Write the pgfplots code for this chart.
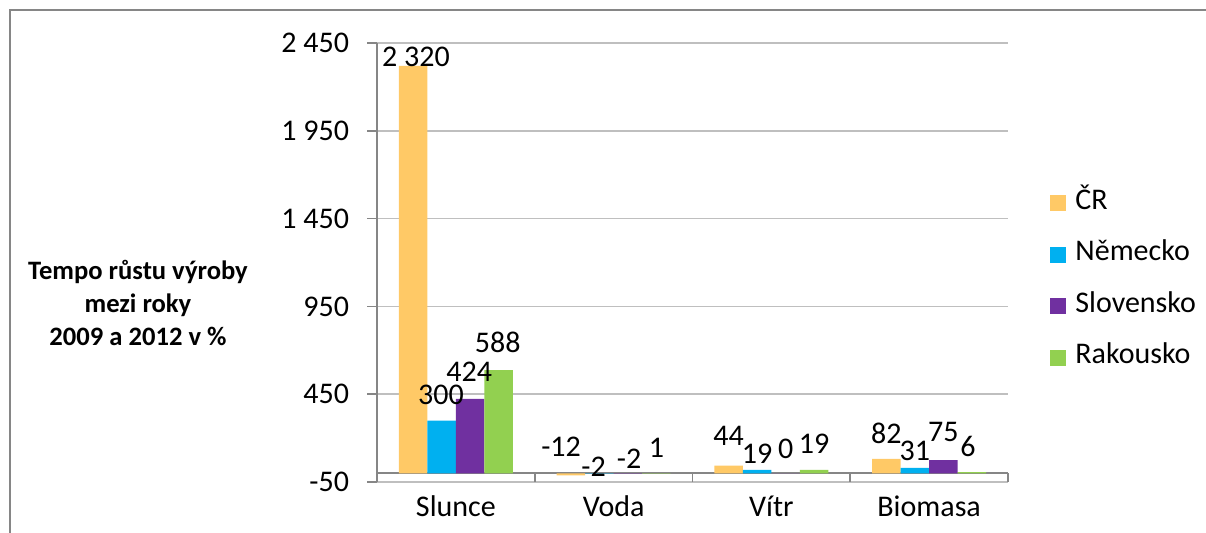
\documentclass[border=0pt]{standalone}
\usepackage{pgfplots}
\usepackage{pgfplotstable}
\pgfplotsset{compat=1.18}
\usepackage{fontspec}
\setmainfont{Carlito}
\definecolor{cCR}{HTML}{FFC966}
\definecolor{cDE}{HTML}{00B0F0}
\definecolor{cSK}{HTML}{7030A0}
\definecolor{cAT}{HTML}{92D050}
\definecolor{gridc}{HTML}{BFBFBF}
\definecolor{axc}{HTML}{868686}
% x = category (0 Slunce, 1 Voda, 2 Vitr, 3 Biomasa); dx, dy = label offsets (pt)
\pgfplotstableread{
x y dx dy
0 2320 1.4 -3.9
1 -12 -4.9 5.9
2 44 0 6.5
3 82 0 4.1
}\tCR
\pgfplotstableread{
x y dx dy
0 300 -0.3 4.5
1 -2 -2.9 -5.0
2 19 0 -0.3
3 31 0 0.1
}\tDE
\pgfplotstableread{
x y dx dy
0 424 -0.5 5.1
1 -2 0.6 -1.2
2 0 0 3.9
3 75 0 5.7
}\tSK
\pgfplotstableread{
x y dx dy
0 588 -0.5 5.2
1 1 0.1 4.2
2 19 0 4.7
3 6 -1.9 4.3
}\tAT
\begin{document}
\begin{tikzpicture}[x=1pt,y=1pt]
\useasboundingbox (0,0) rectangle (603,266.5);
\draw[axc, line width=1pt] (5,0) -- (5,261.5) -- (603,261.5);
\node[font=\fontsize{13.3}{16.5}\selectfont\bfseries, align=center] at (69,115) {Tempo růstu výroby\\mezi roky\\2009 a 2012 v \%};
\begin{axis}[
  at={(239,29)}, anchor=south west,
  scale only axis, width=315.5pt, height=219.5pt,
  ymin=-50, ymax=2450, ytick={-50,450,950,1450,1950,2450},
  xmin=-0.5, xmax=3.5, xtick={0,1,2,3}, xticklabels={Slunce,Voda,Vítr,Biomasa},
  axis x line*=bottom, axis y line*=left,
  axis line style={axc, line width=0.8pt},
  x axis line style={gridc},
  ymajorgrids, grid style={gridc, line width=0.8pt},
  x tick style={draw=none},
  y tick style={axc, line width=0.8pt},
  tick align=outside, major tick length=5pt,
  tick label style={font=\fontsize{15}{17}\selectfont},
  yticklabel style={xshift=-5.5pt},
  xticklabel style={yshift=1.5pt},
  /pgf/number format/1000 sep={\ },
  /pgf/number format/assume math mode=true,
  ybar=0pt, bar width=14.25pt,
  legend image code/.code={\fill[#1] (0pt,-4pt) rectangle (8pt,4pt);},
  legend cell align=left,
  legend style={at={(axis description cs:1.0666,0.666)}, anchor=north west,
    draw=none, fill=none, inner sep=0pt, row sep=12.8pt,
    font=\fontsize{15}{17}\selectfont,
    nodes={inner ysep=0pt, text height=9.5pt, text depth=3.5pt},
    /tikz/every odd column/.append style={column sep=2.5pt}},
  nodes near coords,
  visualization depends on={\thisrow{dx} \as \dx},
  visualization depends on={\thisrow{dy} \as \dy},
  every node near coord/.append style={font=\fontsize{15}{17}\selectfont, anchor=south, xshift=\dx pt, yshift=\dy pt, text=black},
  clip=false,
]
\draw[axc, line width=0.8pt] (axis cs:-0.5,0) -- (axis cs:3.5,0);
\draw[axc, line width=0.8pt] (axis cs:-0.5,0) -- (axis cs:-0.5,-50);
\draw[axc, line width=0.8pt] (axis cs:0.5,0) -- (axis cs:0.5,-50);
\draw[axc, line width=0.8pt] (axis cs:1.5,0) -- (axis cs:1.5,-50);
\draw[axc, line width=0.8pt] (axis cs:2.5,0) -- (axis cs:2.5,-50);
\draw[axc, line width=0.8pt] (axis cs:3.5,0) -- (axis cs:3.5,-50);
\addplot[fill=cCR, draw=none] table[x=x, y=y] {\tCR};
\addplot[fill=cDE, draw=none] table[x=x, y=y] {\tDE};
\addplot[fill=cSK, draw=none] table[x=x, y=y] {\tSK};
\addplot[fill=cAT, draw=none] table[x=x, y=y] {\tAT};
\legend{ČR,Německo,Slovensko,Rakousko}
\end{axis}
\end{tikzpicture}
\end{document}
